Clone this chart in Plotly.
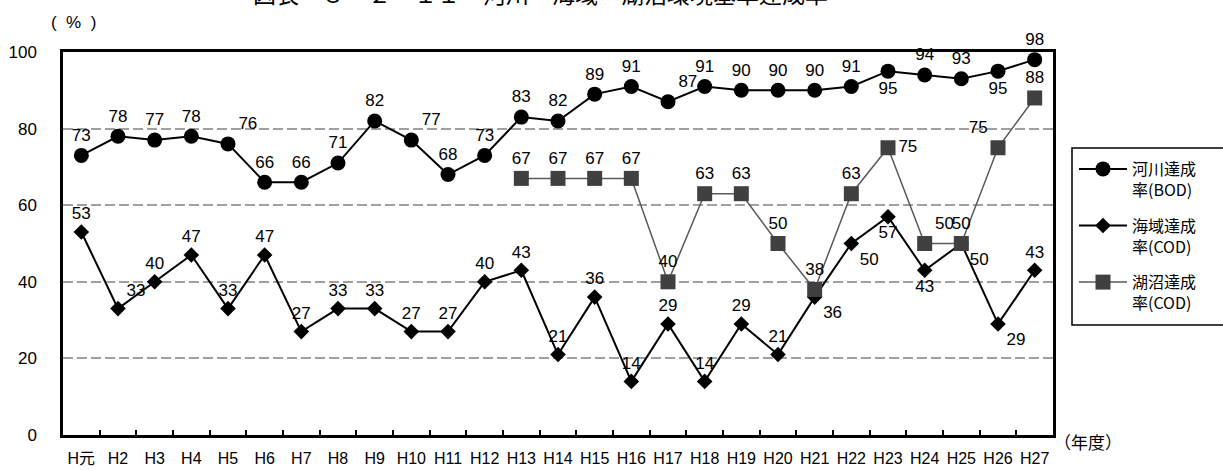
import plotly.graph_objects as go

years = ["H元", "H2", "H3", "H4", "H5", "H6", "H7", "H8", "H9", "H10", "H11", "H12", "H13",
         "H14", "H15", "H16", "H17", "H18", "H19", "H20", "H21", "H22", "H23", "H24", "H25",
         "H26", "H27"]
river_bod = [73, 78, 77, 78, 76, 66, 66, 71, 82, 77, 68, 73, 83, 82, 89, 91, 87, 91, 90, 90,
             90, 91, 95, 94, 93, 95, 98]
sea_cod = [53, 33, 40, 47, 33, 47, 27, 33, 33, 27, 27, 40, 43, 21, 36, 14, 29, 14, 29, 21,
           36, 50, 57, 43, 50, 29, 43]
lake_cod = [None] * 12 + [67, 67, 67, 67, 40, 63, 63, 50, 38, 63, 75, 50, 50, 75, 88]

names = ["河川達成<br>率(BOD)", "海域達成<br>率(COD)", "湖沼達成<br>率(COD)"]
y_ticks = [0, 20, 40, 60, 80, 100]

TC, TR, BC, BR, ML, MR, TL = ("top center", "top right", "bottom center", "bottom right",
                              "middle left", "middle right", "top left")
river_pos = [TC, TC, TC, TC, TR, TC, TC, TC, TC, TR, TC, TC, TC, TC, TC, TC, TR, TC, TC, TC,
             TC, TC, BC, TC, TC, BC, TC]
sea_pos = [TC, TR, TC, TC, TC, TC, TC, TC, TC, TC, TC, TC, TC, TC, TC, TC, TC, TC, TC, TC,
           BR, BR, BC, BC, BR, BR, TC]
lake_pos = [TC] * 22 + [MR, TR, TC, TL, TC]

NUM_FONT = "Liberation Sans, Noto Sans CJK JP"
CJK_FONT = "Noto Sans CJK JP"

def labels(vals):
    return ["" if v is None else str(v) for v in vals]

fig = go.Figure()
fig.add_trace(go.Scatter(
    x=years, y=river_bod, name=names[0], legendgroup="a", mode="lines+markers+text",
    line=dict(color="black", width=2), marker=dict(symbol="circle", size=15, color="black"),
    text=labels(river_bod), textposition=river_pos,
    textfont=dict(family=NUM_FONT, size=17, color="black"), cliponaxis=False))
fig.add_trace(go.Scatter(
    x=years, y=sea_cod, name=names[1], legendgroup="b", mode="lines+markers+text",
    line=dict(color="black", width=2), marker=dict(symbol="diamond", size=12, color="black"),
    text=labels(sea_cod), textposition=sea_pos,
    textfont=dict(family=NUM_FONT, size=17, color="black"), cliponaxis=False))
fig.add_trace(go.Scatter(
    x=years, y=lake_cod, name=names[2], legendgroup="c", mode="lines+markers+text",
    line=dict(color="#5a5a5a", width=1.5), marker=dict(symbol="square", size=15, color="#404040"),
    text=labels(lake_cod), textposition=lake_pos,
    textfont=dict(family=NUM_FONT, size=17, color="black"), cliponaxis=False))

W, H = 1223, 470
L, R, T, B = 63, 170, 52, 35
pw, ph = W - L - R, H - T - B

def px_x(p):
    return (p - L) / pw

def px_y(p):
    return (H - B - p) / ph

bx0, bx1, by0, by1 = px_x(1072), px_x(1320), px_y(325), px_y(148)
legend_frame = f"M {bx1} {by1} L {bx0} {by1} L {bx0} {by0} L {bx1} {by0}"

fig.update_layout(
    width=W, height=H,
    margin=dict(l=L, r=R, t=T, b=B, pad=0, autoexpand=False),
    paper_bgcolor="white", plot_bgcolor="white",
    font=dict(family=NUM_FONT, size=17, color="black"),
    showlegend=True,
    legend=dict(x=px_x(1074), y=px_y(152), xanchor="left", yanchor="top",
                font=dict(family=CJK_FONT, size=16, color="black"),
                borderwidth=0, bgcolor="rgba(0,0,0,0)", valign="top",
                tracegroupgap=12, itemwidth=48),
    xaxis=dict(type="category", range=[-0.5, len(years) - 0.5], showgrid=False,
               showline=True, linecolor="black", linewidth=2.5, mirror=True,
               ticks="inside", ticklen=5, tickwidth=1.5, tickcolor="black",
               tickson="boundaries", ticklabelstandoff=7, tickangle=0, automargin=False,
               tickfont=dict(family=NUM_FONT, size=16)),
    yaxis=dict(range=[0, 100], tickvals=y_ticks, showgrid=True, gridcolor="#a0a0a0",
               gridwidth=1.5, griddash="10px,4px", zeroline=False, automargin=False,
               showline=True, linecolor="black", linewidth=2.5, mirror=True,
               ticks="", ticklabelstandoff=20, tickfont=dict(family=NUM_FONT, size=17)),
    annotations=[
        dict(text="図表　３－２－１１　河川・海域・湖沼環境基準達成率", xref="paper", yref="paper",
             x=px_x(540), y=px_y(-7), xanchor="center", yanchor="middle", showarrow=False,
             font=dict(family=CJK_FONT, size=23, color="black")),
        dict(text="(\u00a0\u00a0%\u00a0\u00a0)", xref="paper", yref="paper", x=px_x(73), y=px_y(23),
             xanchor="center", yanchor="middle", showarrow=False,
             font=dict(family=NUM_FONT, size=17, color="black")),
        dict(text="（年度）", xref="paper", yref="paper", x=px_x(1088), y=px_y(441),
             xanchor="center", yanchor="middle", showarrow=False,
             font=dict(family=CJK_FONT, size=17, color="black")),
    ],
    shapes=[
        dict(type="path", xref="paper", yref="paper", path=legend_frame,
             line=dict(color="black", width=1.5)),
    ],
)

fig.write_html("out.html", config={"displayModeBar": False},
               post_script="document.body.style.margin='0';document.body.style.overflow='hidden';")
